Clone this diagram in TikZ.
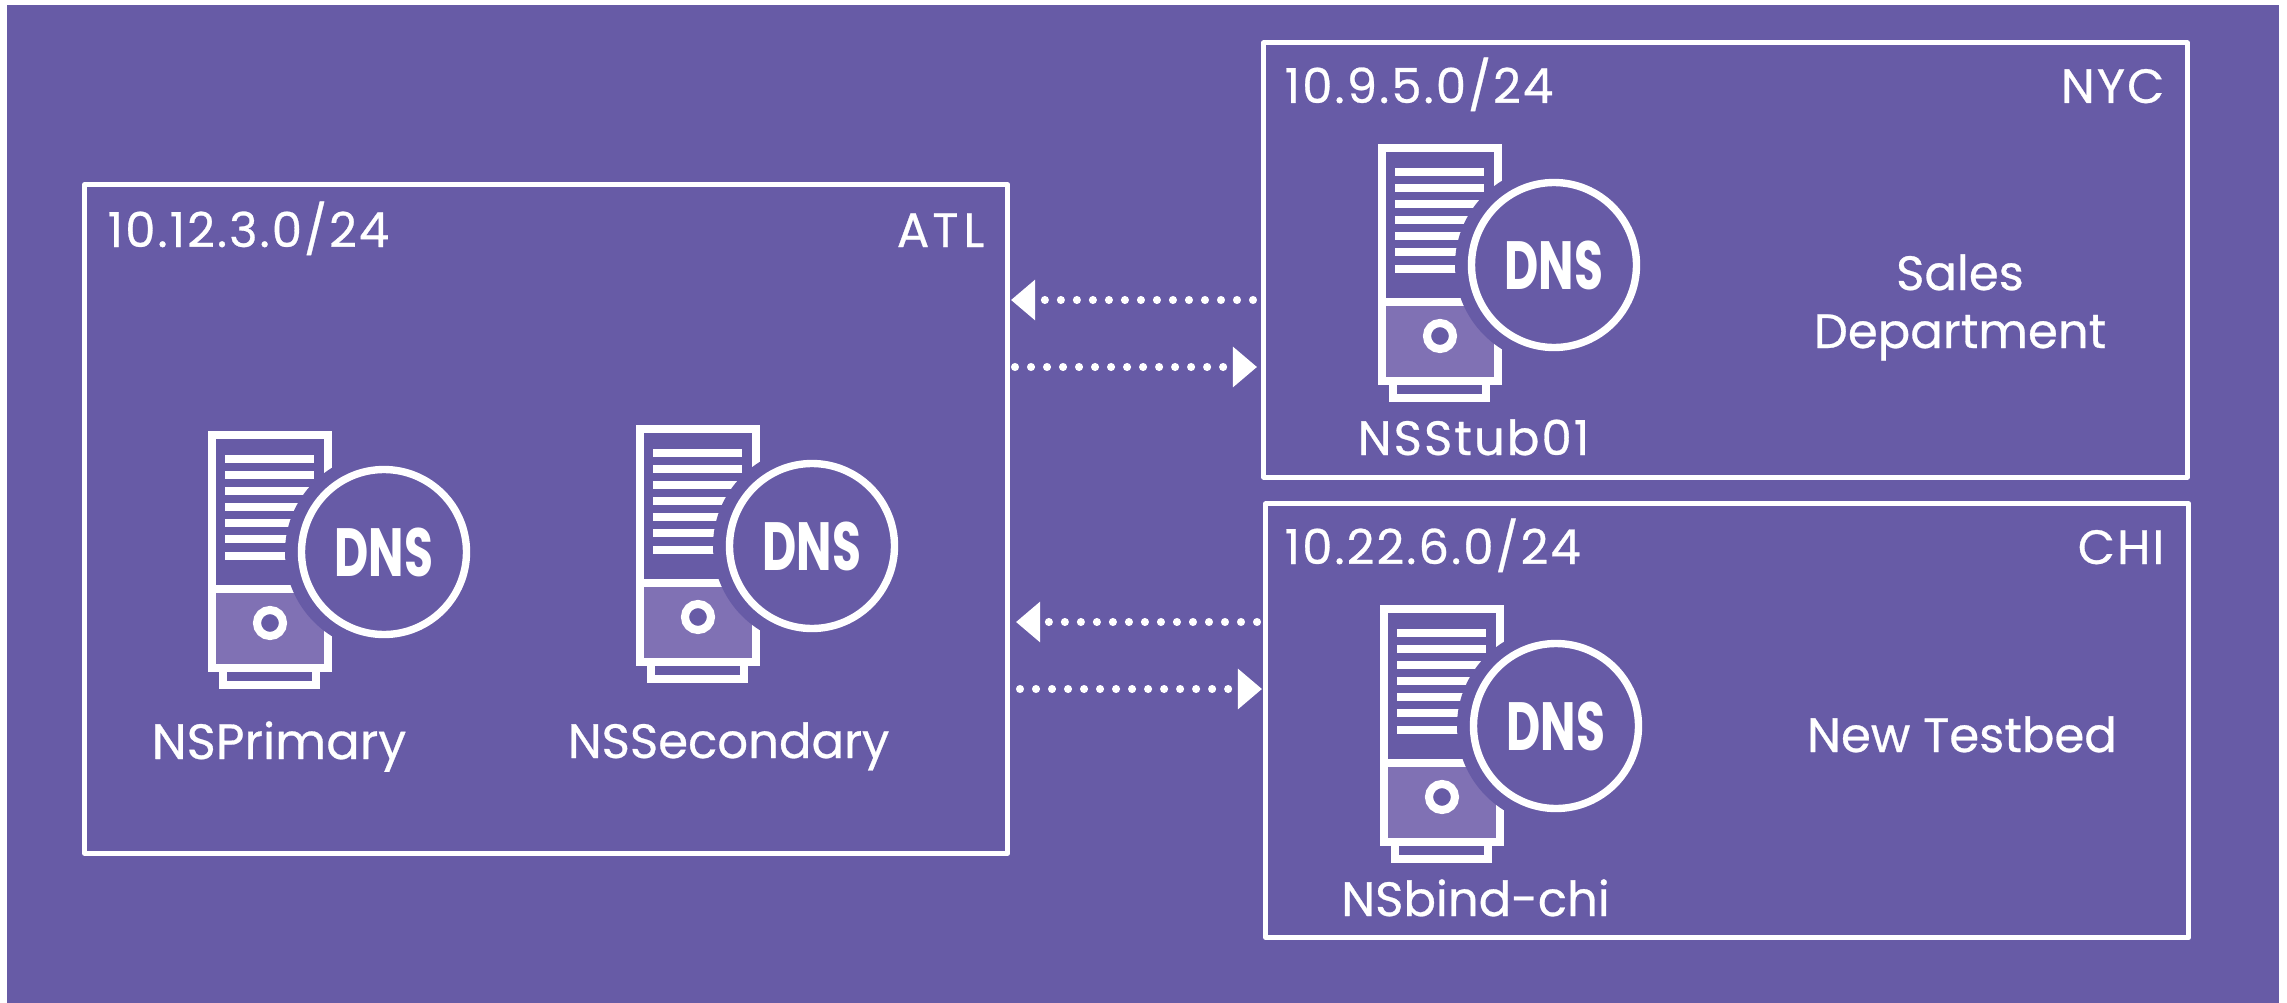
\documentclass[tikz,border=0pt]{standalone}
\usepackage{fontspec}
\setmainfont{Poppins}[FakeBold=0.6]
\newfontfamily\netfont[LetterSpace=4.3,FakeBold=0.6]{Poppins}
\newfontfamily\dnsfont[FakeStretch=0.69]{Poppins}
\usetikzlibrary{arrows.meta}
\definecolor{bgpurple}{HTML}{675BA6}
\definecolor{lightpurple}{HTML}{8071B4}
\tikzset{
	sitebox/.style={draw=white, line width=1.45pt, line join=round, outer sep=0pt, inner sep=0pt},
	label/.style={text=white, inner sep=0pt, anchor=base west, font=\fontsize{13.7}{16}\selectfont},
	netlabel/.style={label, font=\netfont\fontsize{13.7}{16}\selectfont},
	dotarrow/.style={draw=white, line width=2.3pt, line cap=round, dash pattern=on 0pt off 0.16cm,
		-{Triangle[length=0.24cm, width=0.39cm, fill=white]}},
	iconline/.style={draw=white, line width=2.3pt},
}
\newcommand{\dnsserver}[3]{
	\begin{scope}[shift={(#1,#2)}]
		\fill[lightpurple] (4,158) rectangle (120,237);
		\draw[iconline] (4,4) rectangle (120,237);
		\draw[iconline] (15,237) rectangle (108,254);
		\draw[iconline] (4,158) -- (120,158);
		\foreach \ly in {28,44,60,76,92,108,125}
			\draw[iconline] (17,\ly) -- (106,\ly);
		\draw[iconline, fill=bgpurple] (62,192) circle (13);
		\fill[bgpurple] (176,121) circle (99);
		\draw[iconline, line width=2.1pt] (176,121) circle (82.5);
		\node[text=white, inner sep=0pt, font=\dnsfont\bfseries\fontsize{19.4}{20}\selectfont] (#3) at (176,121) {DNS};
	\end{scope}
}

\begin{document}
\begin{tikzpicture}[x=0.01cm, y=-0.01cm]
	\useasboundingbox (0,0) rectangle (2287,1003);
	\fill[bgpurple] (7,5) rectangle (2279,1003);

	% sites
	\node[sitebox, minimum width=9.225cm, minimum height=6.68cm] (atl) at (546.25,519) {};
	\node[sitebox, minimum width=9.23cm, minimum height=4.34cm] (nyc) at (1725.5,260) {};
	\node[sitebox, minimum width=9.225cm, minimum height=4.335cm] (chi) at (1727.25,720.75) {};

	\node[netlabel] (atlnet) at (107,247) {10.12.3.0/24};
	\node[netlabel, anchor=base east] (atlname) at (985,247) {A\kern0.9pt T\kern1.4pt L};
	\node[netlabel] (nycnet) at (1284,103) {10.9.5.0/24};
	\node[netlabel, anchor=base east] (nycname) at (2165,103) {NYC};
	\node[netlabel] (chinet) at (1284,564) {10.22.6.0/24};
	\node[netlabel, anchor=base east] (chiname) at (2165,564) {CHI};

	% servers
	\dnsserver{208}{431}{dnsprimary}
	\dnsserver{636}{425}{dnssecondary}
	\dnsserver{1378}{144}{dnsstub}
	\dnsserver{1380}{605}{dnschi}

	\node[label, anchor=base, font=\fontsize{14.1}{16}\selectfont] (nsprimary) at (279,759) {NSPrimary};
	\node[label, anchor=base] (nssecondary) at (728.5,758) {NSSecondary};
	\node[netlabel, anchor=base] (nsstub) at (1473.5,455) {NSStub01};
	\node[label, anchor=base] (nschi) at (1475.5,916) {NSbind-chi};

	\node[label, anchor=base] (sales) at (1960,290) {Sales};
	\node[label, anchor=base] (dept) at (1960,348) {Department};
	\node[label, anchor=base] (testbed) at (1962,752) {New Testbed};

	% zone transfers
	\coordinate (nycfrom) at (1253,300);
	\coordinate (atlto) at (1011,300);
	\coordinate (atlfrom) at (1015,367);
	\coordinate (nycto) at (1257,367);
	\coordinate (chifrom) at (1257,622);
	\coordinate (atlback) at (1016,622);
	\coordinate (atlout) at (1020,689);
	\coordinate (chito) at (1262,689);
	\draw[dotarrow] (nycfrom) -- (atlto);
	\draw[dotarrow] (atlfrom) -- (nycto);
	\draw[dotarrow] (chifrom) -- (atlback);
	\draw[dotarrow] (atlout) -- (chito);
\end{tikzpicture}
\end{document}
